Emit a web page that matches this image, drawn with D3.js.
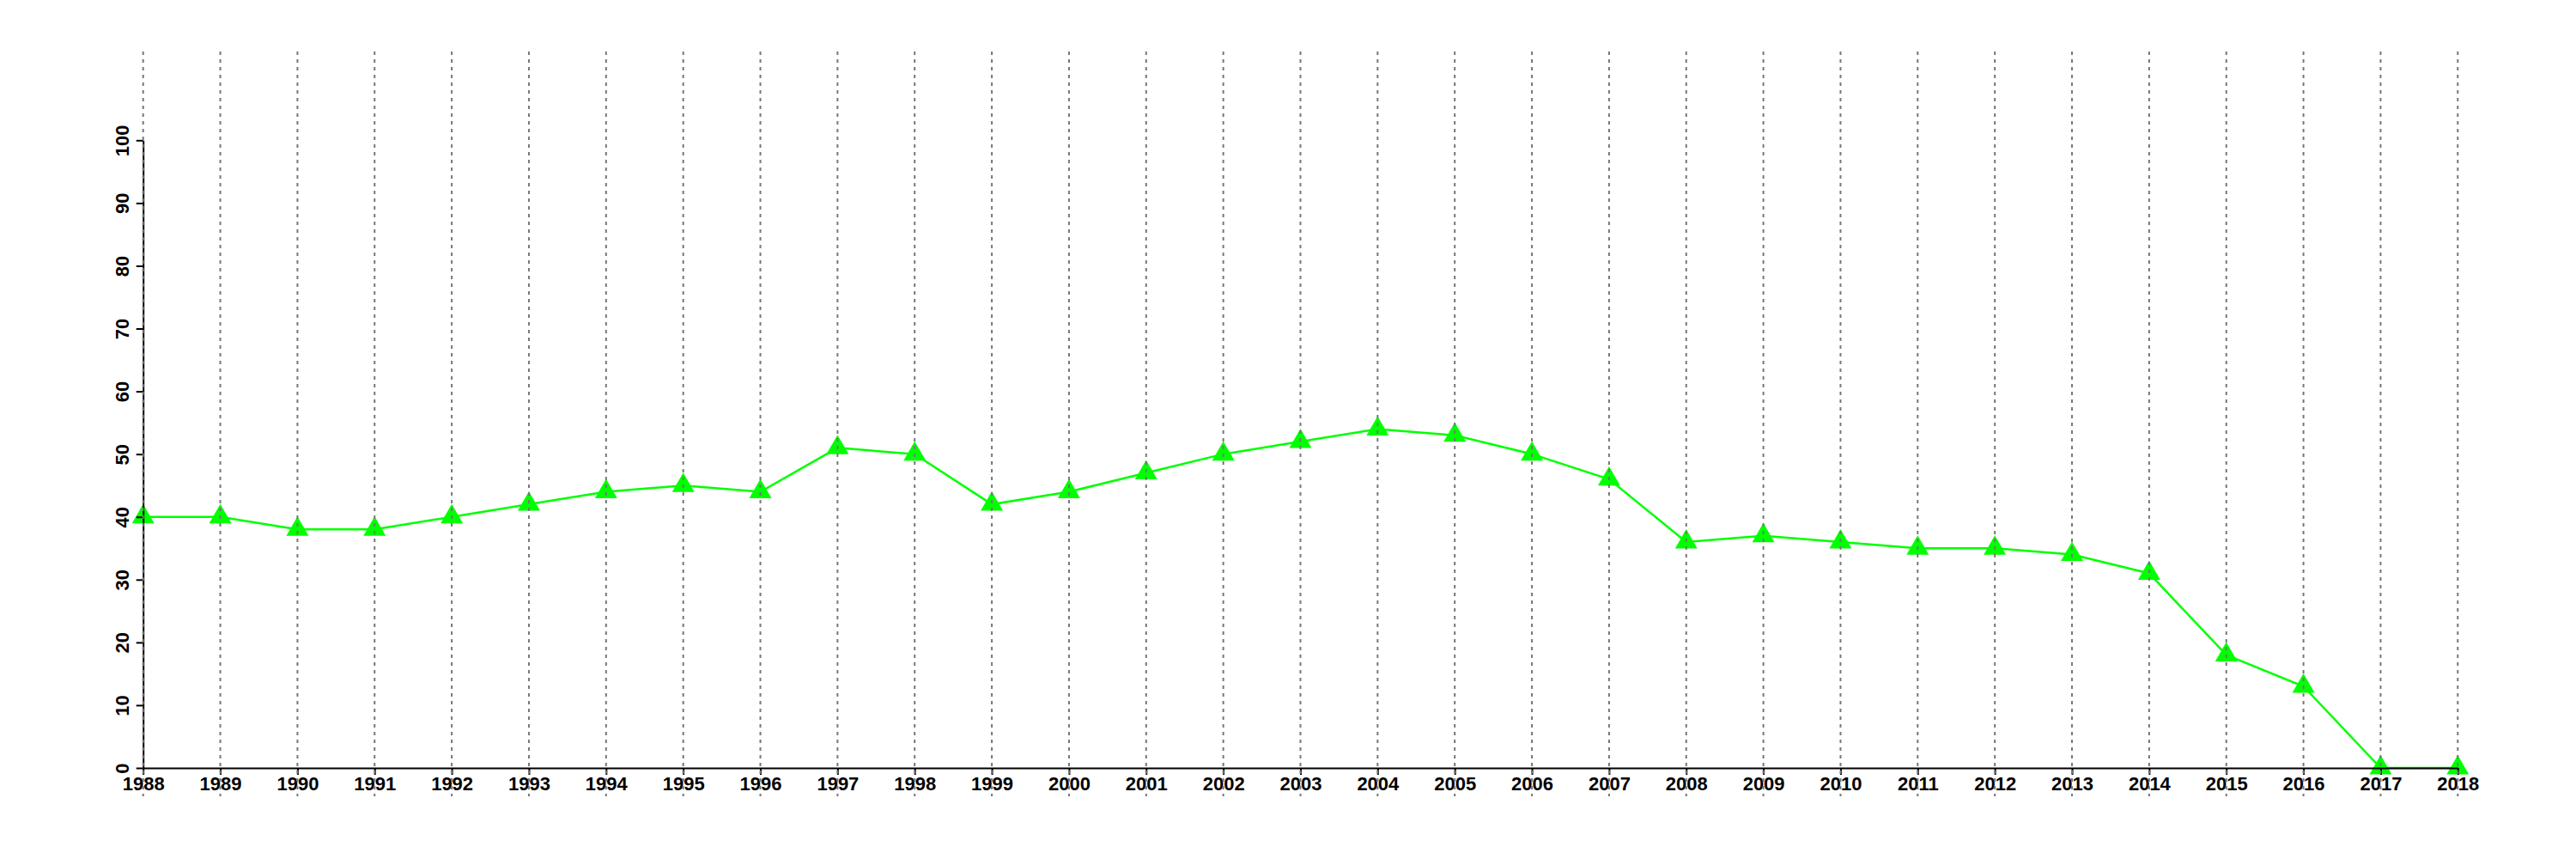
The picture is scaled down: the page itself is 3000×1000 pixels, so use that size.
<!DOCTYPE html>
<html>
<head>
<meta charset="utf-8">
<script src="https://cdn.jsdelivr.net/npm/d3@7"></script>
<style>
  html, body { margin: 0; padding: 0; background: #fff; }
  svg { display: block; }
  .axis text { font-family: "Liberation Sans", Arial, sans-serif; font-weight: bold; font-size: 22px; fill: #000; }
</style>
</head>
<body>
<svg id="chart" width="3000" height="1000"></svg>
<script>
const years = [1988,1989,1990,1991,1992,1993,1994,1995,1996,1997,1998,1999,2000,2001,2002,2003,2004,2005,2006,2007,2008,2009,2010,2011,2012,2013,2014,2015,2016,2017,2018];
const values = [40,40,38,38,40,42,44,45,44,51,50,42,44,47,50,52,54,53,50,46,36,37,36,35,35,34,31,18,13,0,0];
const yTicks = [0,10,20,30,40,50,60,70,80,90,100];

(function () {
const svg = d3.select("#chart");
const plotLeft = 166.7, plotRight = 2862.3, plotTop = 163.3, plotBottom = 894;

const x = d3.scaleLinear().domain([1988, 2018]).range([plotLeft, plotRight]);
const y = d3.scaleLinear().domain([0, 100]).range([plotBottom, plotTop]);

const green = "#00ff00";

// line
const line = d3.line().x((d, i) => x(years[i])).y(d => y(d));
svg.append("path")
  .datum(values)
  .attr("fill", "none")
  .attr("stroke", green)
  .attr("stroke-width", 2.5)
  .attr("d", line);

// points
const tri = d3.symbol().type(d3.symbolTriangle).size(292);
svg.append("g").selectAll("path")
  .data(values)
  .join("path")
  .attr("d", tri)
  .attr("fill", green)
  .attr("transform", (d, i) => `translate(${x(years[i])},${y(d)})`);

// x axis
const xAxis = d3.axisBottom(x)
  .tickValues(years)
  .tickFormat(d3.format("d"))
  .tickSize(8)
  .tickSizeOuter(0)
  .tickPadding(2);
const gx = svg.append("g")
  .attr("class", "axis")
  .attr("transform", `translate(0,${plotBottom})`)
  .call(xAxis);
gx.select(".domain").attr("stroke", "#000").attr("stroke-width", 2);
gx.selectAll(".tick line").attr("stroke", "#000").attr("stroke-width", 2);

// y axis
const yAxis = d3.axisLeft(y)
  .tickValues(yTicks)
  .tickFormat(d3.format("d"))
  .tickSize(8)
  .tickSizeOuter(0);
const gy = svg.append("g")
  .attr("class", "axis")
  .attr("transform", `translate(${plotLeft},0)`)
  .call(yAxis);
gy.select(".domain").attr("stroke", "#000").attr("stroke-width", 2);
gy.selectAll(".tick line").attr("stroke", "#000").attr("stroke-width", 2);
gy.selectAll(".tick text")
  .attr("x", 0)
  .attr("dy", 0)
  .attr("transform", "translate(-16.7,0) rotate(-90)")
  .style("text-anchor", "middle");

// vertical dashed grid lines (drawn on top)
svg.append("g").selectAll("line")
  .data(years)
  .join("line")
  .attr("x1", d => x(d))
  .attr("x2", d => x(d))
  .attr("y1", 60)
  .attr("y2", 927)
  .attr("stroke", "#777")
  .attr("stroke-width", 2)
  .attr("stroke-dasharray", "4,5");
})();
</script>
</body>
</html>
